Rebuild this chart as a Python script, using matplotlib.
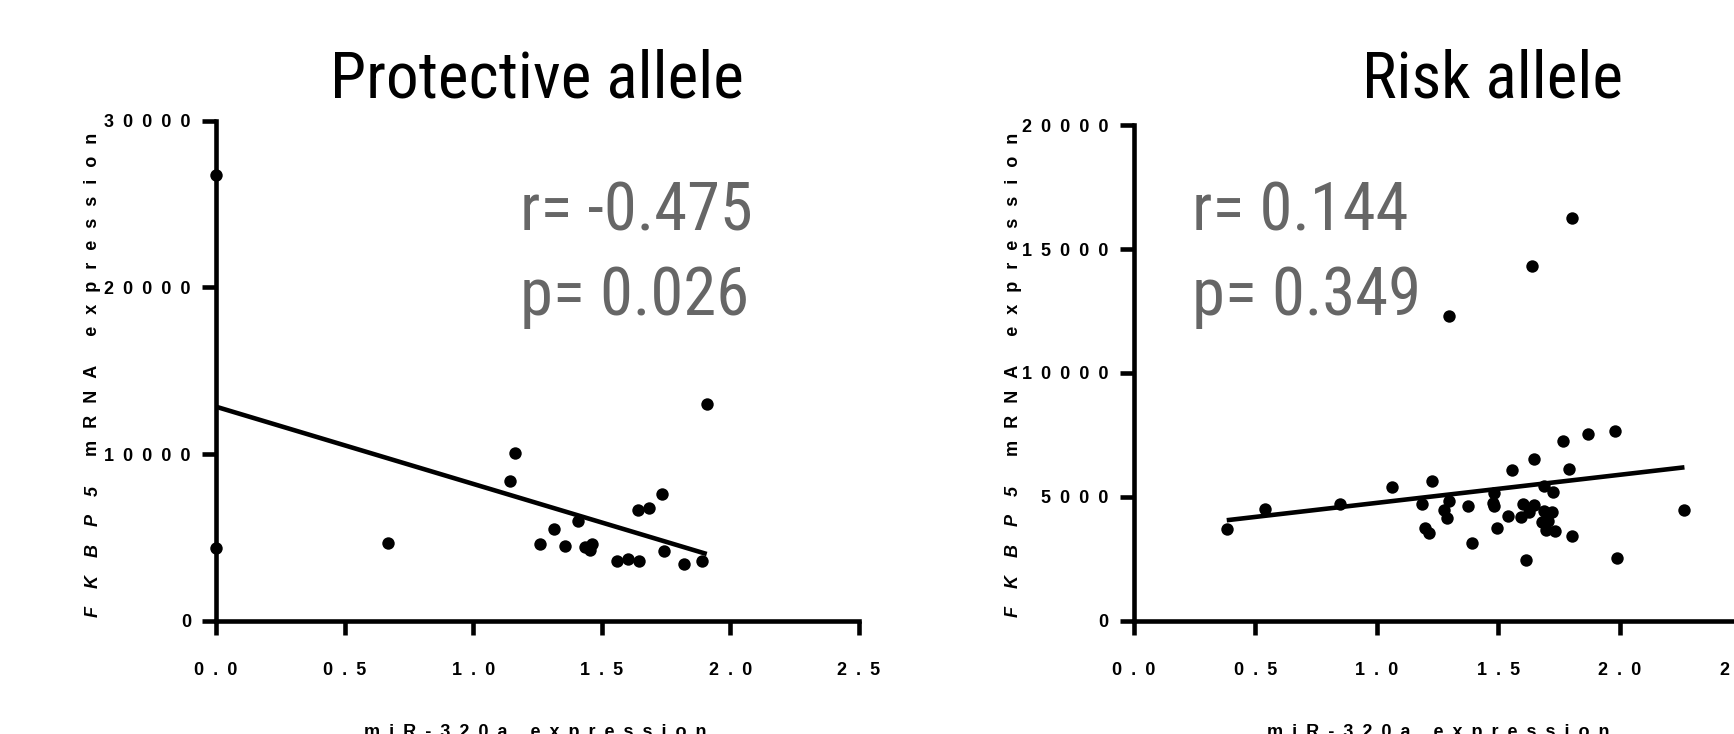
import numpy as np
import matplotlib
matplotlib.use("Agg")
import matplotlib.pyplot as plt

# protective allele: miR-320a vs FKBP5 mRNA
prot_x = [0.0, 0.0, 0.67, 1.145, 1.162, 1.26, 1.314, 1.355, 1.407, 1.434, 1.454,
          1.463, 1.558, 1.60, 1.643, 1.642, 1.685, 1.736, 1.742, 1.819, 1.89, 1.908]
prot_y = [26730, 4345, 4655, 8380, 10035, 4593, 5525, 4490, 5960, 4450, 4240,
          4614, 3580, 3683, 3600, 6662, 6766, 7594, 4180, 3373, 3600, 12973]

# risk allele
risk_x = [0.383, 0.542, 0.85, 1.063, 1.187, 1.198, 1.213, 1.227, 1.275, 1.287,
          1.298, 1.298, 1.377, 1.39, 1.477, 1.481, 1.483, 1.496, 1.54, 1.556,
          1.592, 1.602, 1.615, 1.625, 1.638, 1.646, 1.646, 1.679, 1.688, 1.688,
          1.696, 1.706, 1.721, 1.725, 1.731, 1.767, 1.79, 1.802, 1.802, 1.867,
          1.98, 1.987, 2.265]
risk_y = [3690, 4523, 4704, 5400, 4704, 3758, 3549, 5637, 4481, 4148,
          4843, 12317, 4648, 3132, 4732, 5150, 4635, 3758, 4245, 6096,
          4175, 4704, 2436, 4384, 14322, 6541, 4662, 3967, 5428, 4426,
          3646, 4036, 4384, 5191, 3619, 7265, 6124, 16256, 3410, 7516,
          7655, 2547, 4481]

titles = ["Protective allele", "Risk allele"]
r_text = ["r= -0.475", "r= 0.144"]
p_text = ["p= 0.026", "p= 0.349"]
x_ticks = [0.0, 0.5, 1.0, 1.5, 2.0, 2.5]
prot_yticks = [0, 10000, 20000, 30000]
risk_yticks = [0, 5000, 10000, 15000, 20000]

fam = ["Liberation Sans", "DejaVu Sans"]
narrow = ["Roboto Condensed", "DejaVu Sans"]

EN = "\u2002"
def spaced(s, sep=EN):
    return sep.join(s)

fig = plt.figure(figsize=(17.34, 7.34), dpi=100)
W, H = 1734.0, 734.0

def make_panel(rect, xs, ys, yticks, title, rt, pt, title_x, stat_x, ylab_x, xlab_x):
    ax = fig.add_axes(rect)
    ax.scatter(xs, ys, s=80, color="black", zorder=3, clip_on=False, linewidths=0)
    k, b = np.polyfit(xs, ys, 1)
    lx = np.array([min(xs), max(xs)])
    ax.plot(lx, k * lx + b, color="black", lw=3.3, zorder=2, solid_capstyle="butt")
    ax.set_xlim(0, 2.5)
    ax.set_ylim(0, yticks[-1])
    for s in ["top", "right"]:
        ax.spines[s].set_visible(False)
    for s in ["left", "bottom"]:
        ax.spines[s].set_linewidth(3.3)
    ax.set_xticks(x_ticks)
    ax.set_xticklabels([spaced("%.1f" % t) for t in x_ticks], family=fam,
                       fontweight="bold", fontsize=13)
    ax.set_yticks(yticks)
    ax.set_yticklabels([spaced(str(t)) for t in yticks], family=fam,
                       fontweight="bold", fontsize=13)
    ax.tick_params(axis="x", length=10, width=3.3, pad=20)
    ax.tick_params(axis="y", length=10, width=3.3, pad=8)
    fig.text(title_x / W, 1 - 97 / H, title, ha="center", va="baseline",
             family=narrow, fontsize=47)
    fig.text(stat_x / W, 1 - 230 / H, rt, ha="left", va="baseline",
             family=narrow, fontsize=48, color="#666666")
    fig.text(stat_x / W, 1 - 315 / H, pt, ha="left", va="baseline",
             family=narrow, fontsize=48, color="#666666")
    # y label: italic gene name + bold rest
    fig.text(ylab_x / W, 1 - 617 / H, spaced("FKBP5", "\u2003"), rotation=90,
             ha="center", va="bottom", family=fam, fontweight="bold",
             style="italic", fontsize=13)
    fig.text(ylab_x / W, 1 - 133 / H, spaced("mRNA expression", "\u2002\u2006"),
             rotation=90, ha="center", va="top", family=fam, fontweight="bold",
             fontsize=13)
    fig.text(xlab_x / W, 1 - 737 / H, spaced("miR-320a expression"), ha="center",
             va="baseline", family=fam, fontweight="bold", fontsize=13)
    return ax

make_panel([216 / W, 1 - 620.7 / H, 643 / W, 500 / H], prot_x, prot_y, prot_yticks,
           titles[0], r_text[0], p_text[0], 537, 520, 93, 535)
make_panel([1133.6 / W, 1 - 620.7 / H, 608 / W, 495.5 / H], risk_x, risk_y, risk_yticks,
           titles[1], r_text[1], p_text[1], 1493, 1192, 1013, 1438)

fig.savefig("out.png", dpi=100)
